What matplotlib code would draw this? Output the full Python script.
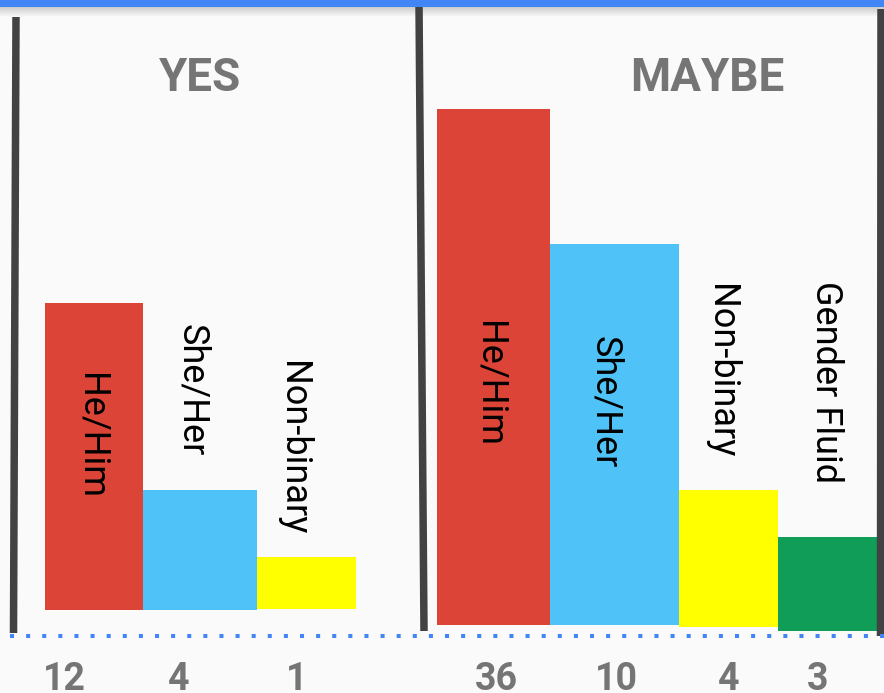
import numpy as np
import matplotlib
matplotlib.use("Agg")
import matplotlib.pyplot as plt

# ---------------- data ----------------
groups = ["YES", "MAYBE"]
yes_labels = ["He/Him", "She/Her", "Non-binary"]
yes_counts = [12, 4, 1]
yes_heights = [307, 120, 52]          # visual bar heights as drawn
maybe_labels = ["He/Him", "She/Her", "Non-binary", "Gender Fluid"]
maybe_counts = [36, 10, 4, 3]
maybe_heights = [516, 381, 137, 94]
yes_colors = ["#DB4437", "#4FC3F7", "#FFFF00"]
maybe_colors = ["#DB4437", "#4FC3F7", "#FFFF00", "#0F9D58"]

# ---------------- layout (pixel canvas) ----------------
W, H = 884, 693
yes_start, yes_widths, yes_bottoms = 45, [98, 114, 99], [610, 610, 609]
maybe_start, maybe_widths, maybe_bottoms = 437, [113, 129, 99, 99], [625, 625, 627, 631]
yes_label_x = [81.5, 182, 283]
yes_label_y = [436, 390, 448]
maybe_label_x = [479, 595, 711, 816]
maybe_label_y = [384, 402, 371, 382]
yes_num_x = [64, 179, 297]
maybe_num_x = [496, 616, 729, 818]
title_x = [200, 707]

BG = "#FAFAFA"
GREY = "#757575"
DARK = "#424242"
BLUE = "#4285F4"

fig = plt.figure(figsize=(W / 100, H / 100), dpi=100, facecolor=BG)
ax = fig.add_axes([0, 0, 1, 1])
ax.set_xlim(0, W)
ax.set_ylim(H, 0)
ax.axis("off")
ax.set_facecolor(BG)

# top bar + soft shadow
grad = np.linspace(0.80, 0.98, 30).reshape(-1, 1)
ax.imshow(np.dstack([grad, grad, grad]), extent=(0, W, 17, 7), aspect="auto", zorder=0)
ax.add_patch(plt.Rectangle((0, 0), W, 7, color=BLUE, zorder=5, lw=0))

def draw_group(start, widths, bottoms, heights, colors, labels, lx, ly):
    lefts = start + np.concatenate([[0], np.cumsum(widths)[:-1]])
    ax.bar(lefts, heights, width=widths, bottom=np.array(bottoms) - np.array(heights),
           align="edge", color=colors, linewidth=0, zorder=2)
    for lab, x, y in zip(labels, lx, ly):
        ax.text(x, y, lab, rotation=-90, rotation_mode="anchor", ha="center", va="baseline",
                fontsize=26, family="Roboto", color="black", zorder=3)

draw_group(yes_start, yes_widths, yes_bottoms, yes_heights, yes_colors, yes_labels,
           yes_label_x, yes_label_y)
draw_group(maybe_start, maybe_widths, maybe_bottoms, maybe_heights, maybe_colors, maybe_labels,
           maybe_label_x, maybe_label_y)

# vertical separators
for (x0, y0, x1, y1) in [(16, 17, 13.5, 633), (419, 4, 424, 631), (881, 9, 880.5, 636)]:
    ax.plot([x0, x1], [y0, y1], color=DARK, lw=5.4, solid_capstyle="butt", zorder=4)

# dotted baseline
ax.plot([10, W], [636, 636], color=BLUE, lw=2.9, linestyle=(0, (1, 3)),
        dash_capstyle="butt", zorder=4)

# titles
for g, x in zip(groups, title_x):
    ax.text(x, 91, g, ha="center", va="baseline", fontsize=33, fontweight="bold",
            family="Roboto", color=GREY)

# counts
for c, x in zip(yes_counts + maybe_counts, yes_num_x + maybe_num_x):
    ax.text(x, 690, str(c), ha="center", va="baseline", fontsize=27, fontweight="bold",
            family="Roboto", color=GREY)

fig.savefig("out.png", dpi=100, facecolor=BG)
